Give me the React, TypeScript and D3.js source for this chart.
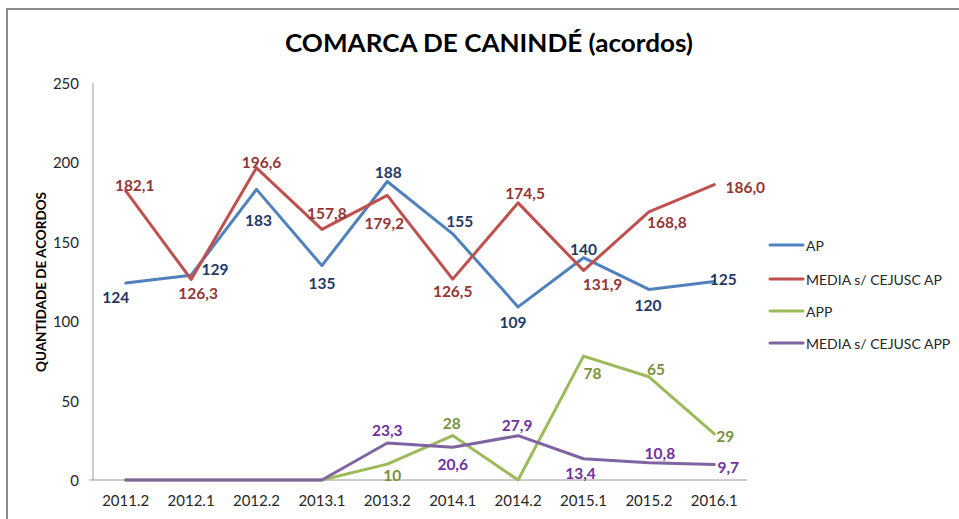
import React from "react";
import * as d3 from "d3";

const categories = ["2011.2", "2012.1", "2012.2", "2013.1", "2013.2", "2014.1", "2014.2", "2015.1", "2015.2", "2016.1"];
const apValues = [124, 129, 183, 135, 188, 155, 109, 140, 120, 125];
const mediaApValues = [182.1, 126.3, 196.6, 157.8, 179.2, 126.5, 174.5, 131.9, 168.8, 186.0];
const appValues = [0, 0, 0, 0, 10, 28, 0, 78, 65, 29];
const mediaAppValues = [0, 0, 0, 0, 23.3, 20.6, 27.9, 13.4, 10.8, 9.7];
const yTicks = [0, 50, 100, 150, 200, 250];
const seriesNames = ["AP", "MEDIA s/ CEJUSC AP", "APP", "MEDIA s/ CEJUSC APP"];

// label nudges relative to each point [dx, dy]
const apLabelNudge = [[-10, 14], [24, -6], [2, 31], [0, 17], [1, -9], [7, -13], [-5, 15], [0, -9], [-1, 16], [9, -3]];
const mediaApLabelNudge = [[9, -6], [7, 14], [5, -6], [5, -16], [-3, 28], [0, 12], [7, -10], [19, 13], [18, 10], [31, 2]];
const appLabelNudge = [[0, 0], [0, 0], [0, 0], [0, 0], [5, 11], [-1, -13], [0, 0], [9, 17], [7, -8], [11, 2]];
const mediaAppLabelNudge = [[0, 0], [0, 0], [0, 0], [0, 0], [0, -13], [0, 17], [-1, -11], [-3, 14], [11, -10], [14, 2]];

const W = 959;
const H = 519;
const plot = { left: 93, right: 747, top: 83, bottom: 480 };
const FONT = "Lato, 'Open Sans', sans-serif";

const fmtInt = (v: number) => String(v);
const fmtDec = (v: number) => v.toFixed(1).replace(".", ",");

export default function App() {
  const x = d3.scaleBand<string>().domain(categories).range([plot.left, plot.right]);
  const y = d3.scaleLinear().domain([0, 250]).range([plot.bottom, plot.top]);
  const cx = (c: string) => (x(c) as number) + x.bandwidth() / 2;

  const series = [
    { name: seriesNames[0], values: apValues, color: "#4F81BD", labelColor: "#1F3864", fmt: fmtInt, nudge: apLabelNudge, skipZero: false },
    { name: seriesNames[1], values: mediaApValues, color: "#C0504D", labelColor: "#943634", fmt: fmtDec, nudge: mediaApLabelNudge, skipZero: false },
    { name: seriesNames[2], values: appValues, color: "#9BBB59", labelColor: "#77933C", fmt: fmtInt, nudge: appLabelNudge, skipZero: true },
    { name: seriesNames[3], values: mediaAppValues, color: "#8064A2", labelColor: "#7030A0", fmt: fmtDec, nudge: mediaAppLabelNudge, skipZero: true },
  ];

  const line = d3
    .line<number>()
    .x((_, i) => cx(categories[i]))
    .y((d) => y(d));

  const legendX = 770;
  const legendY = [245, 279, 311, 343];

  return (
    <svg
      width={W}
      height={H}
      style={{ position: "fixed", left: 0, top: 0, background: "#fff" }}
      fontFamily={FONT}
    >
      <rect x={0} y={0} width={W} height={H} fill="#fff" />
      <path d={`M7,${H + 5} V9 H${W + 5}`} fill="none" stroke="#8a8a8a" strokeWidth={2} />

      <text
        x={285}
        y={52}
        fontSize={24}
        fontWeight={700}
        fill="#000"
        textLength={408}
        lengthAdjust="spacingAndGlyphs"
      >
        COMARCA DE CANINDÉ (acordos)
      </text>

      {/* axes */}
      <line x1={plot.left} x2={plot.left} y1={plot.top} y2={plot.bottom} stroke="#9a9a9a" strokeWidth={1} />
      <line x1={plot.left - 4} x2={plot.right} y1={plot.bottom} y2={plot.bottom} stroke="#9a9a9a" strokeWidth={1} />

      {yTicks.map((t) => (
        <text key={t} x={79} y={y(t)} textAnchor="end" dominantBaseline="central" fontSize={15} fill="#262626">
          {t}
        </text>
      ))}
      {categories.map((c) => (
        <text key={c} x={cx(c)} y={500} textAnchor="middle" dominantBaseline="central" fontSize={15} fill="#262626">
          {c}
        </text>
      ))}

      <text
        transform={`translate(41, 282) rotate(-90)`}
        textAnchor="middle"
        dominantBaseline="central"
        fontSize={13.5}
        fontWeight={700}
        fill="#000"
      >
        QUANTIDADE DE ACORDOS
      </text>

      {series.map((s) => (
        <path
          key={s.name}
          d={line(s.values) || ""}
          fill="none"
          stroke={s.color}
          strokeWidth={3}
          strokeLinejoin="round"
          strokeLinecap="round"
        />
      ))}

      {series.map((s) =>
        s.values.map((v, i) =>
          s.skipZero && v === 0 ? null : (
            <text
              key={s.name + i}
              x={cx(categories[i]) + s.nudge[i][0]}
              y={y(v) + s.nudge[i][1]}
              textAnchor="middle"
              dominantBaseline="central"
              fontSize={15.5}
              fontWeight={700}
              fill={s.labelColor}
            >
              {s.fmt(v)}
            </text>
          )
        )
      )}

      {series.map((s, i) => (
        <g key={"lg" + s.name}>
          <line x1={legendX} x2={legendX + 33} y1={legendY[i]} y2={legendY[i]} stroke={s.color} strokeWidth={3} strokeLinecap="round" />
          <text x={legendX + 36} y={legendY[i]} dominantBaseline="central" fontSize={14} fill="#262626">
            {s.name}
          </text>
        </g>
      ))}
    </svg>
  );
}
